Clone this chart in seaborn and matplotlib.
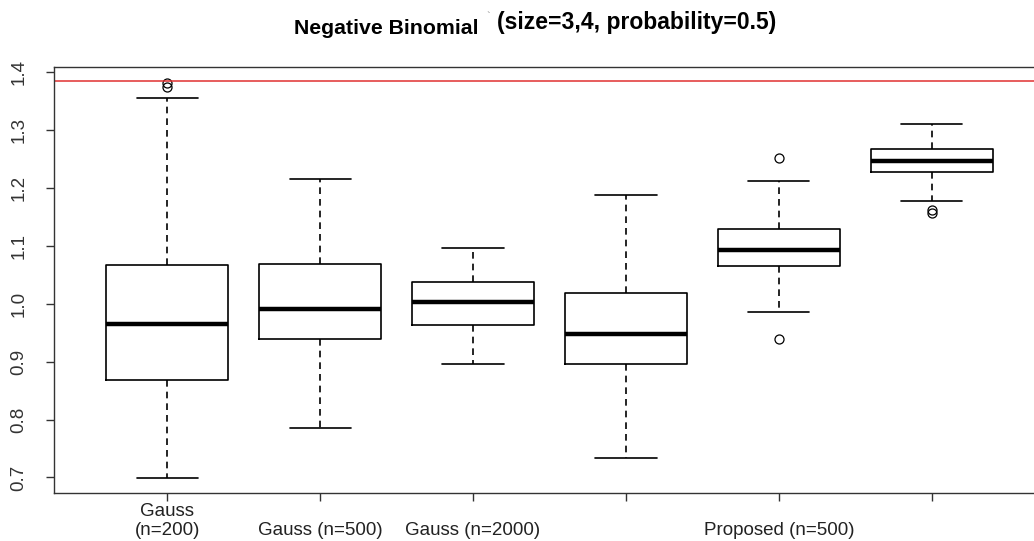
import numpy as np
import pandas as pd
import matplotlib
matplotlib.use("Agg")
import matplotlib.pyplot as plt
import seaborn as sns

# ---- data ----
groups = ["Gauss\n(n=200)", "Gauss (n=500)", "Gauss (n=2000)", "", "Proposed (n=500)", ""]
whisker_low = [0.699, 0.785, 0.8965, 0.7336, 0.9864, 1.1783]
q1 = [0.8689, 0.9392, 0.9634, 0.8960, 1.0660, 1.2279]
median = [0.9657, 0.9911, 1.0037, 0.9484, 1.0930, 1.2462]
q3 = [1.0664, 1.0689, 1.0377, 1.0193, 1.1293, 1.2681]
whisker_high = [1.356, 1.215, 1.0965, 1.188, 1.2128, 1.3108]
outliers = [[1.375, 1.382], [], [], [], [0.9398, 1.252], [1.157, 1.1627]]
reference_value = 1.386
title_left = "Negative Binomial"
title_right = "(size=3,4, probability=0.5)"
y_ticks = [0.7, 0.8, 0.9, 1.0, 1.1, 1.2, 1.3, 1.4]

# Build per-group samples that reproduce the read five-number summaries
rows = []
for i in range(len(groups)):
    vals = ([whisker_low[i]] + [q1[i]] * 20 + [median[i]] * 20 + [q3[i]] * 20
            + [whisker_high[i]] + outliers[i])
    for v in vals:
        rows.append({"group": i, "value": v})
df = pd.DataFrame(rows)

sns.set_style("white")
plt.rcParams["font.family"] = ["Liberation Sans", "DejaVu Sans"]

fig = plt.figure(figsize=(10.34, 5.41), dpi=100)
ax = fig.add_axes([54 / 1034, 48 / 541, 991 / 1034, (493 - 66.7) / 541])

sns.boxplot(
    data=df, x="group", y="value", order=list(range(len(groups))),
    fill=False, color="black", linecolor="black", linewidth=1.2, width=0.8,
    whis=1.5, ax=ax,
    medianprops=dict(linewidth=3.2, color="black"),
    whiskerprops=dict(linestyle=(0, (4, 3)), color="black"),
    capprops=dict(color="black"),
    flierprops=dict(marker="o", markerfacecolor="none", markeredgecolor="black",
                    markersize=6.5, markeredgewidth=0.9),
)

ax.axhline(reference_value, color="#e03030", linewidth=1.1)

ax.set_xlim(-0.74, 5.74)
ax.set_ylim(0.673, 1.410)
ax.set_xlabel("")
ax.set_ylabel("")

ax.set_yticks(y_ticks)
ax.set_yticklabels([f"{t:.1f}" for t in y_ticks], rotation=90, va="center",
                   fontsize=13.5, color="#333333")
ax.set_xticks(range(len(groups)))
ax.set_xticklabels(groups, va="baseline", fontsize=13.5, color="#222222",
                   linespacing=1.2)

ax.tick_params(axis="both", which="major", direction="out", length=6,
               width=1, color="#333333", left=True, bottom=True)
ax.tick_params(axis="x", pad=24.5)
ax.tick_params(axis="y", pad=13)

for side in ["left", "bottom", "top", "right"]:
    ax.spines[side].set_visible(True)
    ax.spines[side].set_color("#333333")
    ax.spines[side].set_linewidth(1.0)

fig.text(478 / 1034, 1 - 28 / 541, title_left, ha="right", va="center",
         fontsize=15.3, fontweight="bold", color="black")
fig.text(488 / 1034, 1 - 17 / 541, "`", ha="center", va="center",
         fontsize=8, color="#888888")
fig.text(497 / 1034, 1 - 23 / 541, title_right, ha="left", va="center",
         fontsize=16.5, fontweight="bold", color="black")

fig.savefig("out.png", dpi=100)
